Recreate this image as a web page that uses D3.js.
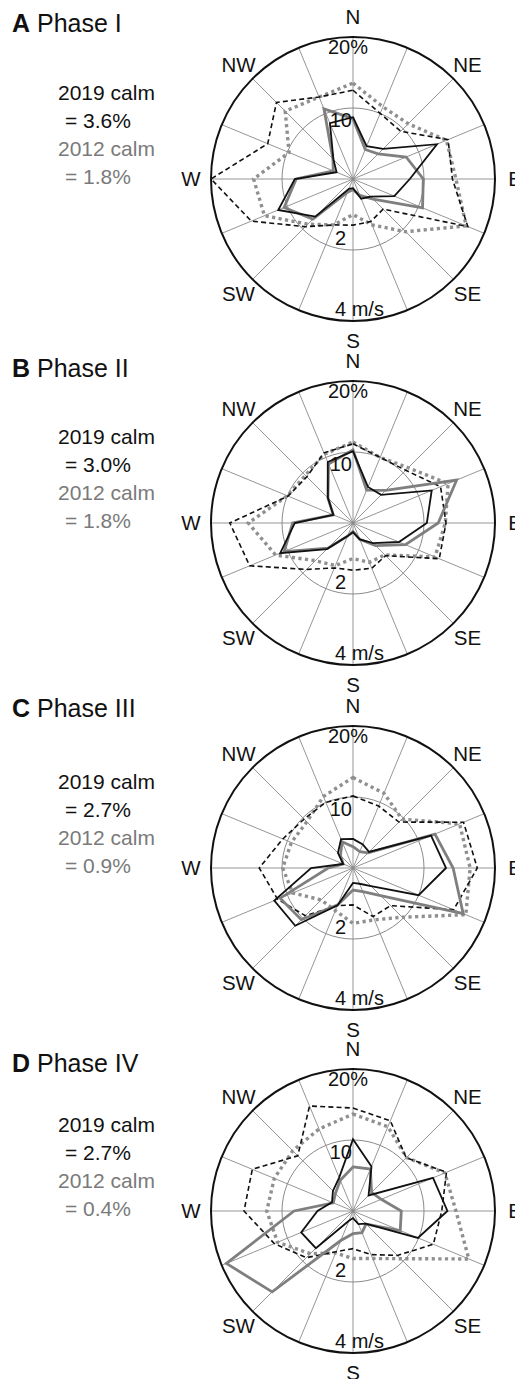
<!DOCTYPE html>
<html>
<head>
<meta charset="utf-8">
<script src="https://cdn.jsdelivr.net/npm/d3@7"></script>
<style>
  html, body { margin: 0; padding: 0; background: #fff; }
  svg { display: block; font-family: "Liberation Sans", Arial, Helvetica, sans-serif; }
</style>
</head>
<body>
<svg id="chart" width="515" height="1379"></svg>
<script>
// Sixteen compass sectors, clockwise from north
const directions = ["N","NNE","NE","ENE","E","ESE","SE","SSE","S","SSW","SW","WSW","W","WNW","NW","NNW"];
const compassLabels = ["N","NE","E","SE","S","SW","W","NW"];

// Phase I
const freq2019_I  = [8.7, 5.0, 6.0, 12.8, 8.0, 6.3, 3.5, 3.0, 1.3, 1.5, 7.5, 11.4, 8.2, 2.5, 3.9, 8.5];
const freq2012_I  = [8.5, 4.5, 5.0, 8.1, 9.9, 10.6, 4.0, 2.5, 1.5, 2.0, 8.0, 10.5, 8.0, 3.0, 4.0, 10.7];
const speed2019_I = [2.5, 2.0, 1.9, 2.9, 2.8, 3.5, 1.2, 1.3, 1.3, 1.4, 1.9, 3.1, 4.0, 2.6, 3.05, 2.5];
const speed2012_I = [2.7, 2.2, 2.2, 2.85, 2.9, 3.45, 2.1, 1.4, 1.0, 1.4, 1.8, 2.7, 2.8, 1.95, 2.7, 2.5];

// Phase II
const freq2019_II  = [10.1, 5.5, 5.6, 12.0, 10.4, 7.0, 4.0, 2.5, 1.3, 2.0, 5.2, 11.1, 8.2, 3.0, 5.0, 9.3];
const freq2012_II  = [10.3, 5.0, 6.5, 15.8, 12.0, 8.0, 4.5, 2.5, 1.2, 2.0, 5.0, 10.5, 8.5, 3.0, 5.0, 9.0];
const speed2019_II = [2.23, 2.0, 2.1, 2.67, 2.62, 2.63, 1.3, 1.38, 1.33, 1.37, 1.85, 3.15, 3.47, 1.98, 1.84, 2.14];
const speed2012_II = [2.28, 2.0, 2.2, 2.9, 2.6, 2.5, 1.27, 1.2, 1.0, 1.3, 1.5, 2.36, 2.95, 2.0, 1.9, 2.1];

// Phase III
const freq2019_III  = [4.1, 3.6, 3.2, 11.9, 13.1, 10.0, 3.6, 2.4, 2.1, 5.7, 11.5, 12.0, 5.9, 1.5, 3.0, 4.4];
const freq2012_III  = [3.0, 2.5, 3.0, 12.5, 14.1, 16.8, 5.5, 3.6, 3.1, 5.6, 10.3, 11.1, 3.5, 1.5, 2.5, 4.0];
const speed2019_III = [2.03, 1.89, 1.83, 3.37, 3.5, 3.07, 1.5, 1.48, 1.04, 1.15, 1.9, 2.3, 2.64, 2.14, 1.95, 2.0];
const speed2012_III = [2.55, 2.28, 1.95, 3.25, 3.3, 3.44, 1.96, 1.58, 1.56, 1.3, 1.27, 1.84, 1.98, 1.88, 1.84, 2.18];

// Phase IV
const freq2019_IV  = [10.1, 6.8, 3.1, 12.2, 13.3, 9.9, 2.5, 2.0, 1.0, 1.5, 7.4, 7.9, 5.0, 3.2, 4.0, 5.1];
const freq2012_IV  = [6.2, 6.4, 3.7, 4.3, 6.8, 7.2, 2.6, 3.3, 3.2, 4.5, 16.1, 19.3, 8.3, 3.0, 3.5, 4.7];
const speed2019_IV = [2.9, 2.75, 2.12, 2.85, 2.5, 2.45, 1.77, 1.33, 1.06, 1.24, 1.86, 2.4, 3.07, 3.07, 2.2, 3.2];
const speed2012_IV = [2.73, 2.57, 2.13, 2.8, 2.9, 3.53, 1.9, 1.45, 1.34, 1.28, 1.7, 2.3, 2.43, 2.4, 2.4, 2.5];

const phaseLetters = ["A","B","C","D"];
const phaseNames = ["Phase I","Phase II","Phase III","Phase IV"];
const calm2019 = ["3.6%","3.0%","2.7%","2.7%"];
const calm2012 = ["1.8%","1.8%","0.9%","0.4%"];
const freqTicks = [10, 20];
const speedTicks = [2, 4];

const panels = [
  { f19: freq2019_I,   f12: freq2012_I,   s19: speed2019_I,   s12: speed2012_I },
  { f19: freq2019_II,  f12: freq2012_II,  s19: speed2019_II,  s12: speed2012_II },
  { f19: freq2019_III, f12: freq2012_III, s19: speed2019_III, s12: speed2012_III },
  { f19: freq2019_IV,  f12: freq2012_IV,  s19: speed2019_IV,  s12: speed2012_IV }
];

// Layout
const cx = 353, R = 142;
const centersY = [179, 523, 868, 1211];
const titleY = [32, 377, 717, 1072];

const svg = d3.select("#chart");

const angle = d3.scalePoint().domain(directions).range([0, 2 * Math.PI * 15 / 16]);
const rFreq = d3.scaleLinear().domain([0, 20]).range([0, R]);
const rSpeed = d3.scaleLinear().domain([0, 4]).range([0, R]);

const GRAY = "#7a7a7a";

const series = [
  { key: "s12", scale: rSpeed, stroke: "#8f8f8f", width: 3.4, dash: "3.2,3.4" },
  { key: "s19", scale: rSpeed, stroke: "#111", width: 1.6, dash: "5,3.2" },
  { key: "f12", scale: rFreq,  stroke: "#7f7f7f", width: 2.8, dash: null },
  { key: "f19", scale: rFreq,  stroke: "#111", width: 1.8, dash: null }
];

panels.forEach((p, i) => {
  const cy = centersY[i];

  // Panel title
  const title = svg.append("text").attr("x", 12).attr("y", titleY[i])
    .attr("font-size", 25).attr("fill", "#111");
  title.append("tspan").attr("font-weight", "bold").text(phaseLetters[i]);
  title.append("tspan").text(" " + phaseNames[i]);

  // Calm percentages
  const calm = svg.append("g").attr("font-size", 21);
  calm.append("text").attr("x", 58).attr("y", cy - 79).attr("fill", "#111").text("2019 calm");
  calm.append("text").attr("x", 65).attr("y", cy - 51).attr("fill", "#111").text("= " + calm2019[i]);
  calm.append("text").attr("x", 58).attr("y", cy - 23).attr("fill", GRAY).text("2012 calm");
  calm.append("text").attr("x", 65).attr("y", cy + 5).attr("fill", GRAY).text("= " + calm2012[i]);

  const g = svg.append("g").attr("transform", `translate(${cx},${cy})`);

  // Spokes
  g.selectAll("line.spoke").data(directions).join("line")
    .attr("class", "spoke")
    .attr("x1", 0).attr("y1", 0)
    .attr("x2", d => R * Math.sin(angle(d)))
    .attr("y2", d => -R * Math.cos(angle(d)))
    .attr("stroke", "#8a8a8a").attr("stroke-width", 0.9);

  // Inner ring
  g.append("circle").attr("r", rFreq(freqTicks[0]))
    .attr("fill", "none").attr("stroke", "#8a8a8a").attr("stroke-width", 1);

  // Data polygons
  series.forEach(s => {
    const vals = p[s.key];
    const line = d3.lineRadial()
      .angle((d, j) => angle(directions[j]))
      .radius(d => s.scale(d))
      .curve(d3.curveLinearClosed);
    g.append("path").attr("d", line(vals))
      .attr("fill", "none")
      .attr("stroke", s.stroke)
      .attr("stroke-width", s.width)
      .attr("stroke-dasharray", s.dash)
      .attr("stroke-linejoin", "miter");
  });

  // Outer ring
  g.append("circle").attr("r", rFreq(freqTicks[1]))
    .attr("fill", "none").attr("stroke", "#111").attr("stroke-width", 2);

  // Ring labels
  const lab = g.append("g").attr("font-size", 20).attr("fill", "#111");
  lab.append("text").attr("x", -25).attr("y", -rFreq(freqTicks[1]) + 17).text(freqTicks[1] + "%");
  lab.append("text").attr("x", -1).attr("y", -rFreq(freqTicks[0]) + 19)
    .attr("text-anchor", "end").text(freqTicks[0]);
  lab.append("text").attr("x", -18).attr("y", rSpeed(speedTicks[0]) - 5).text(speedTicks[0]);
  lab.append("text").attr("x", -18).attr("y", rSpeed(speedTicks[1]) - 5).text(speedTicks[1] + " m/s");

  // Compass labels
  g.selectAll("text.dir").data(compassLabels).join("text")
    .attr("class", "dir")
    .attr("font-size", 20.5).attr("fill", "#111")
    .attr("text-anchor", "middle")
    .attr("x", d => 162 * Math.sin(angle(d)))
    .attr("y", d => -162 * Math.cos(angle(d)))
    .attr("dy", "0.36em")
    .text(d => d);
});
</script>
</body>
</html>
